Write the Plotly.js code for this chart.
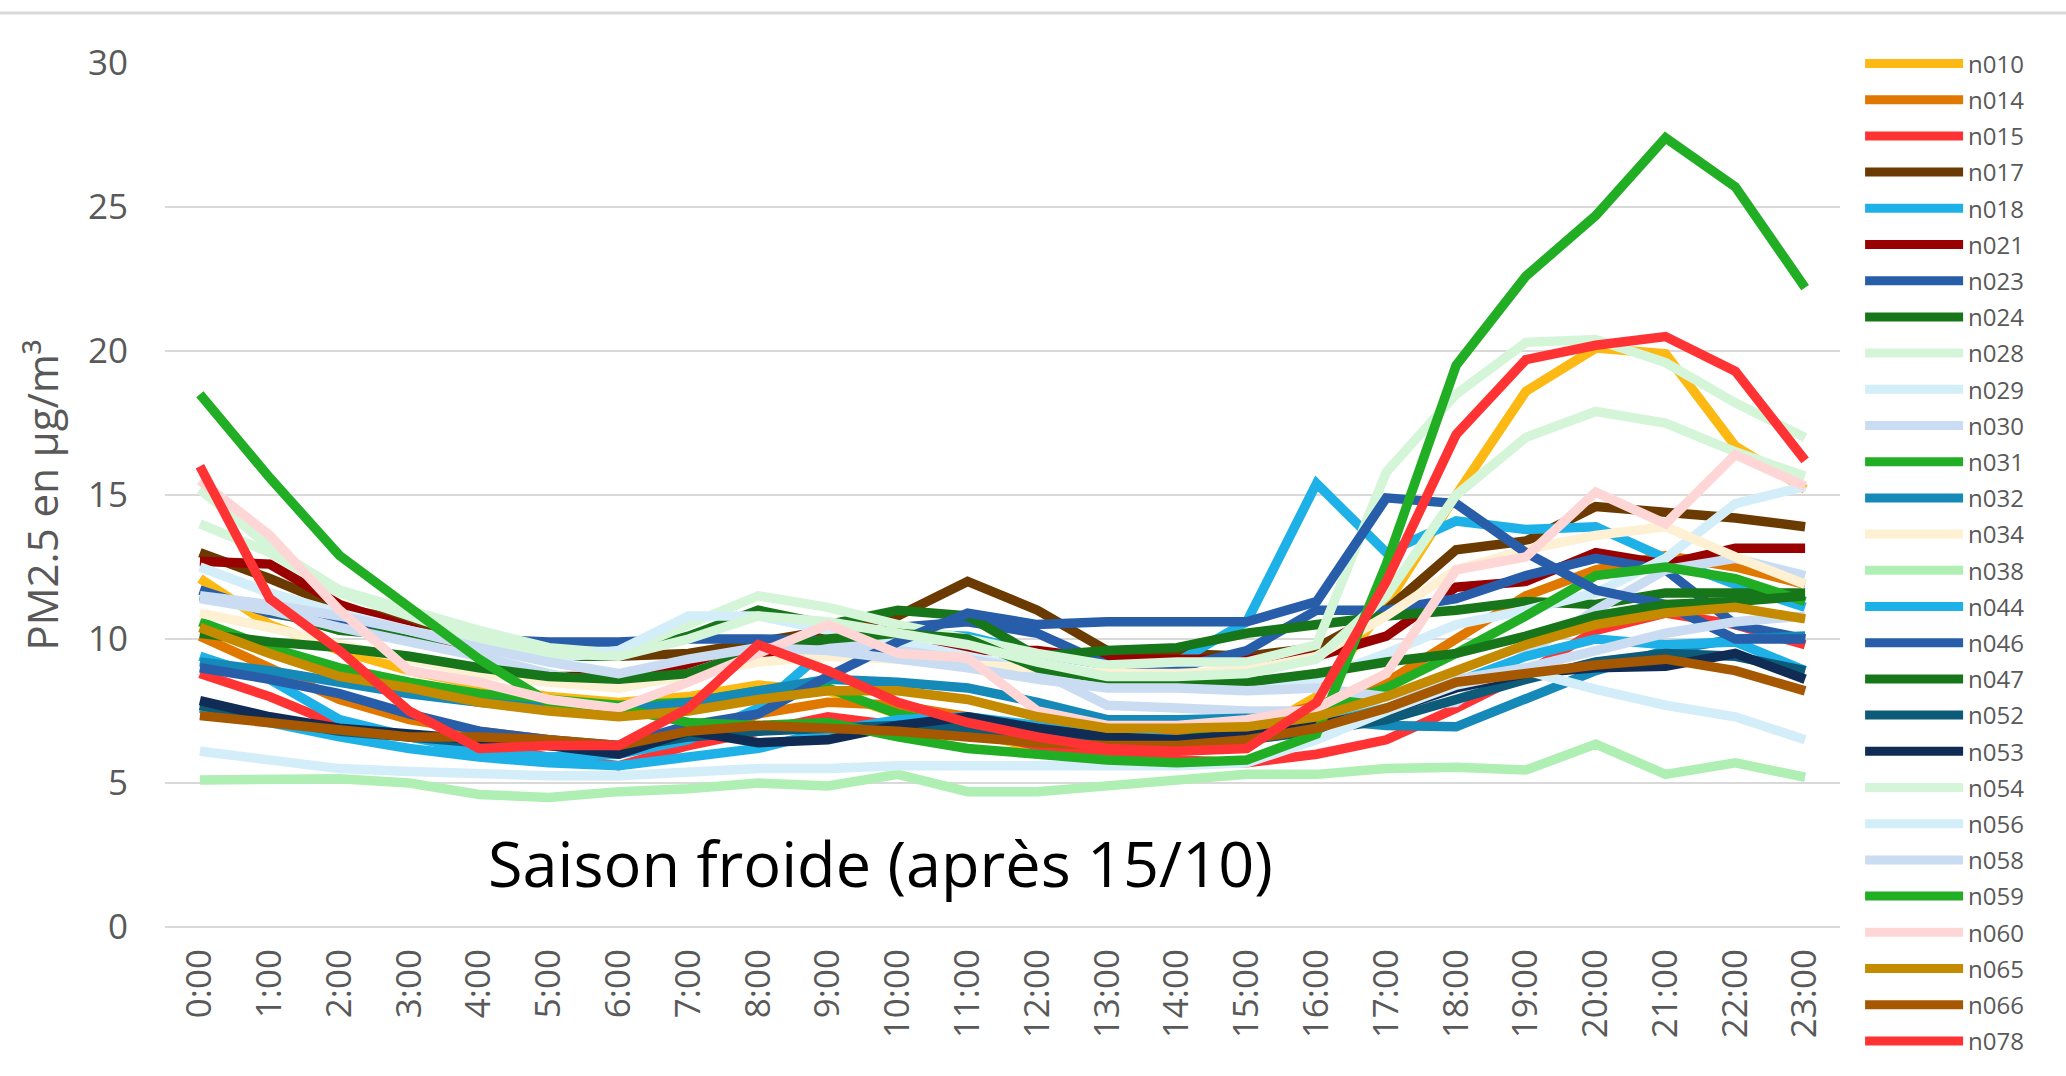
<!DOCTYPE html>
<html>
<head>
<meta charset="utf-8">
<script src="https://cdn.plot.ly/plotly-3.0.1.min.js"></script>
<style>
  html, body { margin: 0; padding: 0; background: #ffffff; }
  #chart { width: 2066px; height: 1076px; }
</style>
</head>
<body>
<div id="chart"></div>
<script>
// Hour categories (x axis)
const hours = ['0:00','1:00','2:00','3:00','4:00','5:00','6:00','7:00','8:00','9:00','10:00','11:00',
               '12:00','13:00','14:00','15:00','16:00','17:00','18:00','19:00','20:00','21:00','22:00','23:00'];

// Station names (legend order)
const stations = ['n010','n014','n015','n017','n018','n021','n023','n024','n028','n029','n030','n031','n032','n034',
                  'n038','n044','n046','n047','n052','n053','n054','n056','n058','n059','n060','n065','n066','n078'];

// Hourly PM2.5 means (µg/m³)
const n010 = [12.1, 10.5, 9.6, 8.9, 8.4, 8.0, 7.8, 8.0, 8.4, 8.2, 7.4, 6.8, 6.2, 6.0, 6.1, 6.6, 8.0, 11.2, 15.0, 18.6, 20.1, 19.9, 16.7, 15.2];
const n014 = [10.1, 9.0, 7.9, 7.2, 6.8, 6.5, 6.2, 6.3, 7.4, 7.8, 7.7, 7.3, 6.9, 6.8, 6.8, 7.1, 7.7, 8.5, 10.0, 11.5, 12.4, 12.9, 12.5, 11.9];
const n015 = [8.8, 8.0, 7.0, 6.6, 6.3, 5.9, 5.6, 6.3, 6.8, 7.3, 7.0, 6.8, 6.3, 6.0, 5.8, 5.7, 6.0, 6.5, 7.6, 8.8, 10.3, 10.9, 10.5, 9.8];
const n017 = [13.0, 12.1, 11.1, 10.6, 10.1, 9.6, 9.4, 9.5, 9.9, 10.3, 10.8, 12.0, 11.0, 9.6, 9.5, 9.4, 9.7, 11.0, 13.1, 13.4, 14.6, 14.4, 14.2, 13.9];
const n018 = [9.4, 8.6, 7.2, 6.6, 6.1, 5.9, 6.0, 6.5, 7.6, 9.7, 10.2, 10.1, 9.5, 9.1, 9.2, 10.6, 15.4, 13.0, 14.1, 13.8, 13.9, 12.8, 11.9, 11.1];
const n021 = [12.7, 12.6, 11.2, 10.4, 9.4, 8.7, 8.7, 9.1, 9.4, 9.6, 9.7, 9.6, 9.6, 9.3, 9.3, 9.3, 9.4, 10.1, 11.8, 12.0, 13.0, 12.6, 13.15, 13.15];
const n023 = [11.7, 10.9, 10.5, 10.2, 10.0, 9.9, 9.9, 10.0, 10.0, 9.95, 10.4, 10.6, 10.2, 9.1, 9.0, 9.6, 11.0, 11.0, 11.4, 12.2, 12.8, 12.4, 10.5, 10.0];
const n024 = [11.5, 11.0, 10.3, 10.1, 9.9, 9.4, 9.4, 10.1, 11.0, 10.5, 11.0, 10.8, 9.4, 9.6, 9.7, 10.2, 10.5, 10.8, 11.0, 11.3, 11.2, 11.6, 11.6, 11.6];
const n028 = [15.2, 13.2, 11.7, 11.0, 10.3, 9.7, 9.5, 10.5, 11.5, 11.1, 10.5, 10.0, 9.5, 9.1, 9.2, 9.2, 9.8, 15.8, 18.5, 20.3, 20.4, 19.6, 18.2, 17.0];
const n029 = [12.5, 11.6, 10.9, 10.3, 9.8, 9.3, 9.6, 10.8, 10.8, 10.3, 9.9, 9.4, 8.9, 8.5, 8.4, 8.4, 8.6, 9.5, 10.5, 11.0, 11.6, 12.8, 14.7, 15.3];
const n030 = [11.4, 11.0, 10.4, 9.9, 9.4, 8.8, 8.3, 8.8, 9.6, 9.9, 9.6, 9.3, 8.9, 7.7, 7.6, 7.5, 7.5, 7.6, 7.8, 9.5, 11.0, 12.4, 12.8, 12.2];
const n031 = [10.6, 9.7, 9.0, 8.5, 8.1, 7.9, 7.7, 7.8, 8.2, 8.3, 7.4, 6.9, 6.5, 6.4, 6.5, 6.8, 7.5, 8.3, 9.5, 10.8, 12.2, 12.5, 12.1, 11.3];
const n032 = [9.2, 8.9, 8.5, 8.1, 7.8, 7.6, 7.5, 7.8, 8.2, 8.6, 8.5, 8.3, 7.8, 7.2, 7.2, 7.25, 7.2, 7.0, 6.95, 7.9, 8.9, 9.6, 10.0, 10.1];
const n034 = [10.9, 10.4, 9.8, 9.3, 8.8, 8.5, 8.3, 8.75, 9.2, 9.4, 9.3, 9.1, 9.0, 8.8, 8.8, 8.9, 9.4, 10.8, 12.4, 13.1, 13.6, 13.9, 12.85, 11.9];
const n038 = [5.1, 5.15, 5.15, 5.0, 4.6, 4.5, 4.7, 4.8, 5.0, 4.9, 5.3, 4.7, 4.7, 4.9, 5.1, 5.3, 5.3, 5.5, 5.55, 5.45, 6.35, 5.3, 5.7, 5.2];
const n044 = [7.6, 7.1, 6.6, 6.2, 5.9, 5.7, 5.6, 5.9, 6.2, 6.8, 7.2, 7.3, 7.0, 6.7, 6.5, 6.6, 7.0, 7.6, 8.5, 9.4, 10.0, 9.8, 9.9, 8.9];
const n046 = [9.0, 8.6, 8.1, 7.4, 6.8, 6.5, 6.3, 7.0, 7.4, 8.7, 9.9, 10.9, 10.5, 10.6, 10.6, 10.6, 11.3, 14.9, 14.7, 13.0, 11.7, 11.2, 10.0, 10.0];
const n047 = [10.2, 9.9, 9.7, 9.4, 9.0, 8.7, 8.6, 8.8, 9.6, 10.0, 10.2, 10.0, 9.0, 8.6, 8.5, 8.5, 8.8, 9.2, 9.5, 10.1, 10.8, 11.2, 11.3, 11.5];
const n052 = [7.7, 7.2, 6.8, 6.6, 6.4, 6.3, 6.2, 6.6, 6.8, 6.9, 7.0, 6.9, 6.6, 6.4, 6.4, 6.5, 6.8, 7.2, 7.9, 8.6, 9.2, 9.5, 9.4, 8.9];
const n053 = [7.86, 7.3, 6.9, 6.7, 6.5, 6.3, 6.0, 6.8, 6.4, 6.5, 7.0, 7.3, 6.9, 6.6, 6.5, 6.7, 7.0, 7.5, 8.3, 8.8, 9.0, 9.05, 9.5, 8.6];
const n054 = [14.0, 13.0, 11.6, 10.8, 10.0, 9.5, 9.4, 10.0, 10.8, 10.6, 10.2, 9.8, 9.2, 8.7, 8.7, 8.8, 9.3, 11.5, 15.0, 17.0, 17.9, 17.5, 16.5, 15.65];
const n056 = [6.1, 5.8, 5.5, 5.4, 5.3, 5.25, 5.25, 5.4, 5.5, 5.5, 5.6, 5.6, 5.6, 5.6, 5.6, 5.7, 6.5, 7.5, 8.4, 8.9, 8.25, 7.7, 7.3, 6.5];
const n058 = [11.5, 11.2, 10.8, 10.3, 9.7, 9.2, 8.8, 9.3, 9.7, 9.6, 9.3, 9.0, 8.6, 8.3, 8.3, 8.2, 8.3, 8.0, 8.6, 9.0, 9.6, 10.2, 10.6, 10.8];
const n059 = [18.5, 15.6, 12.9, 11.1, 9.3, 7.8, 7.6, 7.1, 7.0, 7.1, 6.6, 6.2, 6.0, 5.8, 5.7, 5.8, 6.7, 12.6, 19.5, 22.6, 24.7, 27.4, 25.7, 22.2];
const n060 = [15.5, 13.6, 11.0, 8.9, 8.5, 7.9, 7.6, 8.5, 9.5, 10.5, 9.5, 9.35, 7.5, 7.0, 7.0, 7.2, 7.6, 8.8, 12.4, 12.85, 15.1, 14.0, 16.4, 15.3];
const n065 = [10.4, 9.5, 8.7, 8.3, 7.8, 7.5, 7.3, 7.5, 7.9, 8.2, 8.2, 7.9, 7.3, 6.9, 6.9, 6.95, 7.3, 8.0, 8.9, 9.8, 10.5, 10.9, 11.1, 10.7];
const n066 = [7.34, 7.1, 6.9, 6.6, 6.6, 6.5, 6.3, 6.8, 7.0, 6.9, 6.8, 6.6, 6.4, 6.3, 6.3, 6.5, 6.9, 7.6, 8.5, 8.8, 9.1, 9.3, 8.9, 8.2];
const n078 = [16.0, 11.4, 9.6, 7.5, 6.2, 6.3, 6.3, 7.6, 9.8, 8.9, 7.8, 7.1, 6.6, 6.2, 6.1, 6.2, 7.8, 12.0, 17.1, 19.7, 20.2, 20.5, 19.3, 16.2];

const seriesValues = [n010, n014, n015, n017, n018, n021, n023, n024, n028, n029, n030, n031, n032, n034,
                      n038, n044, n046, n047, n052, n053, n054, n056, n058, n059, n060, n065, n066, n078];

// Line colours, in legend order
const lineColors = ['#FDB913','#E07800','#FF3333','#6B3A00','#1EB1E7','#990000','#275DA9','#18761A','#D5F5D8',
                    '#D3EEF9','#CADCF2','#22AE24','#1589B8','#FDF0D3','#AFEFB3','#1EB1E7','#275DA9','#18761A',
                    '#0E5A79','#102C55','#D5F5D8','#D3EEF9','#CADCF2','#22AE24','#FFD6D6','#C48A00','#A65800','#FF3333'];

const traces = stations.map((name, i) => ({
  type: 'scatter',
  mode: 'lines',
  name: name,
  legendgroup: name,
  x: hours,
  y: seriesValues[i],
  line: { color: lineColors[i], width: 9.5, shape: 'linear' },
  hoverinfo: 'x+y+name'
}));

const layout = {
  width: 2066,
  height: 1076,
  margin: { l: 165, r: 226, t: 63, b: 149, autoexpand: false },
  paper_bgcolor: '#ffffff',
  plot_bgcolor: '#ffffff',
  font: { family: 'Open Sans, sans-serif', color: '#595959' },
  showlegend: true,
  xaxis: {
    type: 'category',
    categoryorder: 'array',
    categoryarray: hours,
    range: [-0.5, 23.5],
    tickangle: -90,
    tickfont: { family: 'Open Sans, sans-serif', size: 35, color: '#595959' },
    showgrid: false,
    showline: false,
    zeroline: false,
    ticks: '',
    ticklabelstandoff: 14,
    automargin: false
  },
  yaxis: {
    range: [0, 30],
    dtick: 5,
    tick0: 0,
    showgrid: true,
    gridcolor: '#d9d9d9',
    gridwidth: 2,
    zeroline: true,
    zerolinecolor: '#d9d9d9',
    zerolinewidth: 2,
    showline: false,
    ticks: '',
    ticklabelstandoff: 36,
    tickfont: { family: 'Open Sans, sans-serif', size: 35, color: '#595959' },
    title: { text: 'PM2.5 en µg/m³', font: { family: 'Open Sans, sans-serif', size: 42, color: '#595959' }, standoff: 16 },
    automargin: false
  },
  legend: {
    x: 1.012,
    xanchor: 'left',
    y: 1.025,
    yanchor: 'top',
    maxheight: 1070,
    font: { family: 'Open Sans, sans-serif', size: 24, color: '#595959' },
    itemwidth: 98,
    tracegroupgap: 2,
    bgcolor: 'rgba(0,0,0,0)',
    borderwidth: 0
  },
  annotations: [{
    text: 'Saison froide (après 15/10)',
    xref: 'paper', yref: 'paper',
    x: 0.427, y: 0.075,
    xanchor: 'center', yanchor: 'middle',
    showarrow: false,
    font: { family: 'Open Sans, sans-serif', size: 63, color: '#000000' }
  }],
  shapes: [{
    type: 'line', xref: 'paper', yref: 'paper',
    x0: -0.1, x1: 1.14, y0: 1.058, y1: 1.058,
    line: { color: '#d9d9d9', width: 3 }
  }]
};

Plotly.newPlot('chart', traces, layout, { displayModeBar: false, staticPlot: true }).then(gd => {
  // Legend swatches in the reference are as thick as the plotted lines
  gd.querySelectorAll('.legend .js-line').forEach(p => {
    p.style.strokeWidth = '9px';
  });
});
</script>
</body>
</html>
